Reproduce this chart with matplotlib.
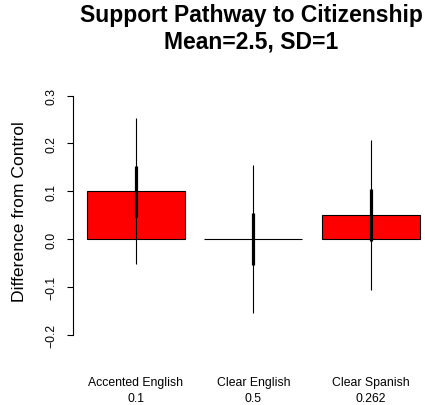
import matplotlib
matplotlib.use("Agg")
import matplotlib.pyplot as plt

plt.rcParams['font.family'] = ['Liberation Sans', 'DejaVu Sans']

# condition effects relative to control
groups = ["Accented English", "Clear English", "Clear Spanish"]
group_notes = ["0.1", "0.5", "0.262"]
means = [0.1, 0.0, 0.05]
se = [0.053, 0.055, 0.054]        # thick bars
ci = [0.153, 0.155, 0.157]        # thin bars

# barplot layout: width 1, space 0.2
centers = [0.7 + 1.2 * i for i in range(len(groups))]

fig = plt.figure(figsize=(4.25, 4.06), dpi=100)
ax = fig.add_axes([0.1727, 0.091, 0.8468, 0.7735])

ax.bar(centers, means, width=1.0, color='red', edgecolor='black', linewidth=0.8)
for x, m, s, c in zip(centers, means, se, ci):
    ax.plot([x, x], [m - c, m + c], color='black', lw=0.8, solid_capstyle='butt')
    ax.plot([x, x], [m - s, m + s], color='black', lw=2.3, solid_capstyle='butt')

ax.set_xlim(0.064, 3.736)
ax.set_ylim(-0.27, 0.387)

for side in ['top', 'right', 'bottom']:
    ax.spines[side].set_visible(False)
ax.spines['left'].set_bounds(-0.2, 0.3)
ax.spines['left'].set_linewidth(0.8)

ax.set_yticks([-0.2, -0.1, 0.0, 0.1, 0.2, 0.3])
ax.set_yticklabels(['\u22120.2', '\u22120.1', '0.0', '0.1', '0.2', '0.3'],
                   rotation=90, va='center', fontsize=8.8)
ax.tick_params(axis='y', length=4.3, width=0.8, pad=7)

ax.set_xticks(centers)
ax.set_xticklabels([g + "\n" + n for g, n in zip(groups, group_notes)],
                   fontsize=8.8, linespacing=1.35)
ax.tick_params(axis='x', length=0, pad=6)

fig.text(20 / 425, 1 - 212 / 406, "Difference from Control", rotation=90,
         ha='center', va='center', fontsize=12.6)
fig.text(251.5 / 425, 1 - 29 / 406, "Support Pathway to Citizenship\nMean=2.5, SD=1",
         ha='center', va='center', fontsize=16.5, fontweight='bold', linespacing=1.18)

fig.savefig("out.png", dpi=100)
